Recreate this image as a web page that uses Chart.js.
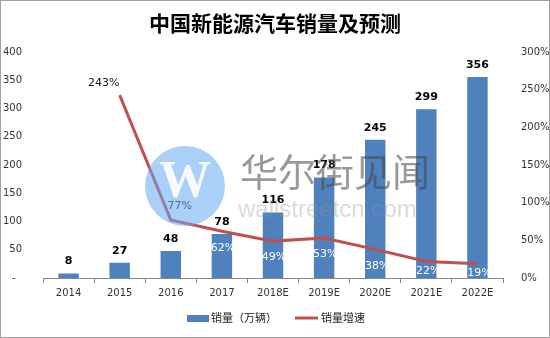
<!DOCTYPE html>
<html>
<head>
<meta charset="utf-8">
<script src="https://cdn.jsdelivr.net/npm/chart.js@4"></script>
<style>
  html, body { margin: 0; padding: 0; background: #fff; }
  #wrap { width: 550px; height: 338px; position: relative; }
</style>
</head>
<body>
<div id="wrap"><canvas id="salesChart" width="550" height="338"></canvas></div>
<script>
// ================== DATA ==================
const years = ["2014", "2015", "2016", "2017", "2018E", "2019E", "2020E", "2021E", "2022E"];
const sales = [8, 27, 48, 78, 116, 178, 245, 299, 356];        // 销量（万辆）
const growth = [null, 243, 77, 62, 49, 53, 38, 22, 19];         // 销量增速 %
const leftTicks = [0, 50, 100, 150, 200, 250, 300, 350, 400];
const rightTicks = [0, 50, 100, 150, 200, 250, 300];

// ================== STYLE ==================
const BAR_COLOR = "#4F81BD";
const LINE_COLOR = "#C0504D";
const TICK_FONT = "DejaVu Sans";
const CJK_FONT = "'Noto Sans CJK SC'";
// label offsets for growth labels [dx, dy, color]
const growthLabelPos = [null, [-16, -12, "#111"], [9, -14, "#222"], [1, 17, "#fff"], [1, 16, "#fff"],
  [1, 16, "#fff"], [2, 17, "#fff"], [2, 10, "#fff"], [2, 9, "#fff"]];

// ================== PLUGINS ==================
const labelPlugin = {
  id: "labels",
  afterDatasetsDraw(chart) {
    const ctx = chart.ctx;
    ctx.save();
    ctx.textAlign = "center";
    ctx.textBaseline = "middle";

    // bar values
    ctx.font = "bold 11px " + TICK_FONT;
    ctx.fillStyle = "#000";
    chart.getDatasetMeta(0).data.forEach((bar, i) => {
      ctx.fillText(sales[i], bar.x, bar.y - 12);
    });

    // growth %
    ctx.font = "11px " + TICK_FONT;
    chart.getDatasetMeta(1).data.forEach((pt, i) => {
      if (growth[i] == null) return;
      const p = growthLabelPos[i];
      ctx.fillStyle = p[2];
      ctx.fillText(growth[i] + "%", pt.x + p[0], pt.y + p[1]);
    });
    ctx.restore();
  },
  afterDraw(chart) {
    const ctx = chart.ctx;
    ctx.save();

    // watermark
    ctx.fillStyle = "rgba(100,170,240,0.55)";
    ctx.beginPath();
    ctx.arc(185, 186, 40, 0, Math.PI * 2);
    ctx.fill();
    ctx.fillStyle = "rgba(255,255,255,0.9)";
    ctx.font = "bold 52px 'Liberation Serif'";
    ctx.textAlign = "center";
    ctx.textBaseline = "middle";
    ctx.fillText("W", 185, 184);

    ctx.fillStyle = "rgba(70,70,70,0.55)";
    ctx.font = "38px " + CJK_FONT;
    ctx.textAlign = "left";
    ctx.fillText("华尔街见闻", 240, 172);
    ctx.fillStyle = "rgba(150,150,150,0.35)";
    ctx.font = "24px 'Liberation Sans'";
    ctx.fillText("wallstreetcn.com", 238, 210);

    // legend
    ctx.fillStyle = BAR_COLOR;
    ctx.fillRect(187, 315, 22, 7);
    ctx.strokeStyle = LINE_COLOR;
    ctx.lineWidth = 3;
    ctx.beginPath();
    ctx.moveTo(295, 318);
    ctx.lineTo(318, 318);
    ctx.stroke();
    ctx.fillStyle = "#222";
    ctx.font = "11px " + CJK_FONT;
    ctx.fillText("销量（万辆）", 211, 318);
    ctx.fillText("销量增速", 321, 318);

    // frame
    ctx.strokeStyle = "#A0A0A0";
    ctx.lineWidth = 1;
    ctx.strokeRect(0.5, 0.5, 549, 337);
    ctx.restore();
  }
};

// ================== CHART ==================
const ctx = document.getElementById("salesChart").getContext("2d");
new Chart(ctx, {
  data: {
    labels: years,
    datasets: [
      {
        type: "bar",
        label: "销量（万辆）",
        data: sales,
        backgroundColor: BAR_COLOR,
        barPercentage: 0.4,
        categoryPercentage: 1,
        yAxisID: "y",
        order: 1
      },
      {
        type: "line",
        label: "销量增速",
        data: growth,
        borderColor: LINE_COLOR,
        borderWidth: 3,
        pointRadius: 0,
        tension: 0,
        spanGaps: true,
        yAxisID: "y1",
        order: 0
      }
    ]
  },
  options: {
    responsive: false,
    animation: false,
    layout: { padding: { left: 0, right: 0, top: 0, bottom: 30 } },
    plugins: {
      legend: { display: false },
      tooltip: { enabled: false },
      title: {
        display: true,
        text: "中国新能源汽车销量及预测",
        color: "#000",
        font: { family: CJK_FONT, size: 21, weight: "bold" },
        padding: { top: 10, bottom: 17 }
      }
    },
    scales: {
      x: {
        grid: { drawOnChartArea: false, drawTicks: true, tickLength: 5, color: "#888", offset: true },
        border: { display: true, color: "#888" },
        ticks: { color: "#333", font: { family: TICK_FONT, size: 10 }, padding: 4, maxRotation: 0 },
        afterFit: s => { s.height = 30; }
      },
      y: {
        position: "left",
        min: 0,
        max: 400,
        afterBuildTicks: s => { s.ticks = leftTicks.map(v => ({ value: v })); },
        grid: { display: false },
        border: { display: false },
        ticks: {
          color: "#333",
          font: { family: TICK_FONT, size: 10 },
          padding: 13,
          callback: v => (v === 0 ? "-  " : v)
        },
        afterFit: s => { s.width = 43; }
      },
      y1: {
        position: "right",
        min: 0,
        max: 300,
        afterBuildTicks: s => { s.ticks = rightTicks.map(v => ({ value: v })); },
        grid: { display: false },
        border: { display: false },
        ticks: {
          color: "#333",
          font: { family: TICK_FONT, size: 10 },
          padding: 10,
          callback: v => v + "%"
        },
        afterFit: s => { s.width = 47; }
      }
    }
  },
  plugins: [labelPlugin]
});
</script>
</body>
</html>
